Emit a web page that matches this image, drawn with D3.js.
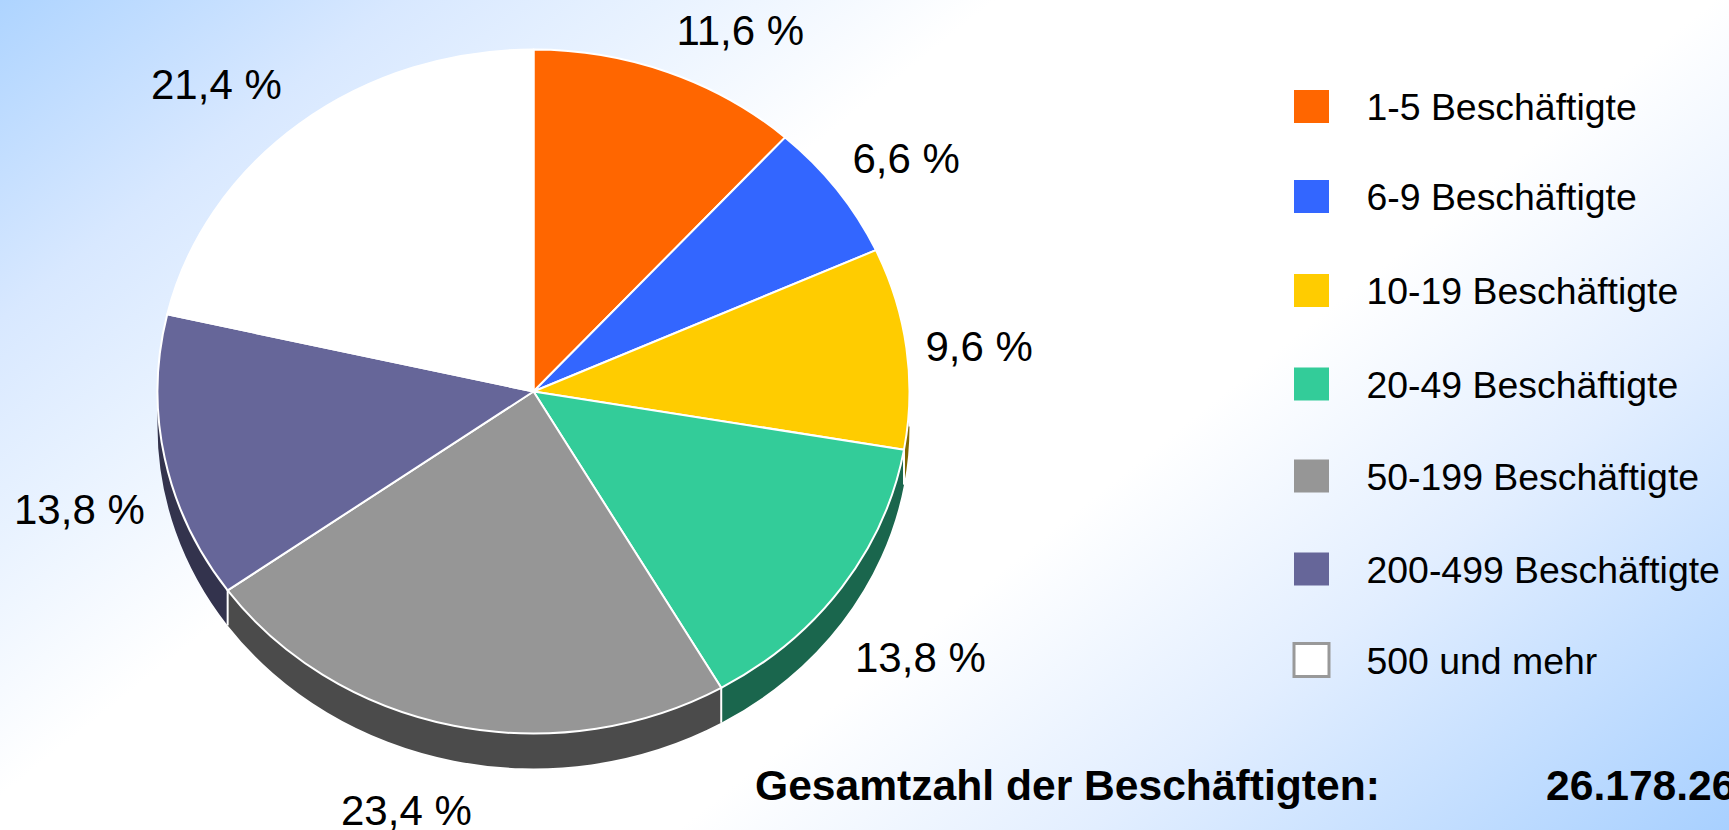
<!DOCTYPE html>
<html><head><meta charset="utf-8">
<script src="https://cdn.jsdelivr.net/npm/d3@7"></script>
<style>html,body{margin:0;padding:0;overflow:hidden;background:#fff}svg{display:block}text{font-family:"Liberation Sans",Arial,sans-serif;fill:#000}</style>
</head><body><svg id="c" width="1729" height="830"></svg>
<script>
const categories = ["1-5 Beschäftigte","6-9 Beschäftigte","10-19 Beschäftigte","20-49 Beschäftigte","50-199 Beschäftigte","200-499 Beschäftigte","500 und mehr"];
// percentages as printed beside the slices
const printedShares = [11.6,6.6,9.6,13.8,23.4,13.8,21.4];
// sector sizes as measured off the drawn pie (the printed figures do not sum to 100)
const sectorShares = [11.67,6.55,9.5,13.96,23.44,13.5,21.38];
const totalLabel = "Gesamtzahl der Beschäftigten:";
const totalValue = "26.178.26";

const colors = ["#FF6600","#3366FF","#FFCC00","#33CC99","#969696","#666699","#FFFFFF"];
const labelPos = [[676.5,44.5],[852.5,172.5],[925.5,360.5],[855,672],[341,824.5],[14,524],[151,98.5]];
const legendRows = [106.5,196.5,290.5,384,476,569,660];
const W=1729,H=830,cx=533.5,cy=391.5,rx=376,ry=342,depth=35;

const svg=d3.select("#c");
const defs=svg.append("defs");
const grad=defs.append("linearGradient").attr("id","bg").attr("gradientUnits","userSpaceOnUse")
  .attr("x1",0).attr("y1",0).attr("x2",1079.4).attr("y2",1349);
[[0,"#AED4FF"],[0.145,"#D8E8FF"],[0.239,"#E8F2FF"],[0.36,"#FFFFFF"],[0.62,"#FFFFFF"],[0.77,"#E2EEFF"],[1,"#A8D0FF"]]
  .forEach(s=>grad.append("stop").attr("offset",s[0]).attr("stop-color",s[1]));
svg.append("rect").attr("width",W).attr("height",H).attr("fill","url(#bg)");

const pieData=d3.pie().sort(null).value(d=>d)(sectorShares);
const k=ry/rx;
const g=svg.append("g").attr("transform",`translate(${cx},${cy}) scale(1,${k})`);
const dy=depth/k;
const half=c=>{const r=d3.rgb(c);return d3.rgb(r.r/2,r.g/2,r.b/2).formatHex();};

// extruded rim: only the front half of the pie is visible
pieData.forEach((p,i)=>{
  const a0=Math.max(p.startAngle,Math.PI/2),a1=Math.min(p.endAngle,Math.PI*1.5);
  if(a1<=a0) return;
  const q=d3.path(),s=a0-Math.PI/2,e=a1-Math.PI/2;
  q.moveTo(rx*Math.cos(s),rx*Math.sin(s));
  q.arc(0,0,rx,s,e,false);
  q.lineTo(rx*Math.cos(e),rx*Math.sin(e)+dy);
  q.arc(0,dy,rx,e,s,true);
  q.closePath();
  g.append("path").attr("d",q.toString()).attr("fill",half(colors[i]));
  // white separator where this rim piece starts
  g.append("line").attr("x1",rx*Math.cos(s)).attr("y1",rx*Math.sin(s))
   .attr("x2",rx*Math.cos(s)).attr("y2",rx*Math.sin(s)+dy)
   .attr("stroke","#fff").attr("stroke-width",2).attr("vector-effect","non-scaling-stroke");
});
const arc=d3.arc().innerRadius(0).outerRadius(rx);
g.selectAll("path.top").data(pieData).join("path").attr("class","top")
 .attr("d",arc).attr("fill",(d,i)=>colors[i])
 .attr("stroke","#fff").attr("stroke-width",2).attr("stroke-linejoin","round").attr("vector-effect","non-scaling-stroke");

const fmt=d3.formatLocale({decimal:",",thousands:".",grouping:[3],currency:["","€"]}).format(".1f");
svg.selectAll("text.pct").data(printedShares).join("text").attr("class","pct")
 .attr("x",(d,i)=>labelPos[i][0]).attr("y",(d,i)=>labelPos[i][1])
 .attr("font-size",42).text(d=>fmt(d)+" %");

const lg=svg.selectAll("g.leg").data(categories).join("g").attr("class","leg");
lg.append("rect").attr("x",1294).attr("width",35).attr("y",(d,i)=>legendRows[i]-16.5).attr("height",33)
 .attr("fill",(d,i)=>colors[i]).attr("stroke",(d,i)=>i==6?"#999":"none").attr("stroke-width",3);
lg.append("text").attr("x",1366.5).attr("y",(d,i)=>legendRows[i]+13.5).attr("font-size",37.4).text(d=>d);

svg.append("text").attr("x",755).attr("y",800).attr("font-size",42.6).attr("font-weight","bold").text(totalLabel);
svg.append("text").attr("x",1546).attr("y",800).attr("font-size",42.6).attr("font-weight","bold").text(totalValue);
</script></body></html>
